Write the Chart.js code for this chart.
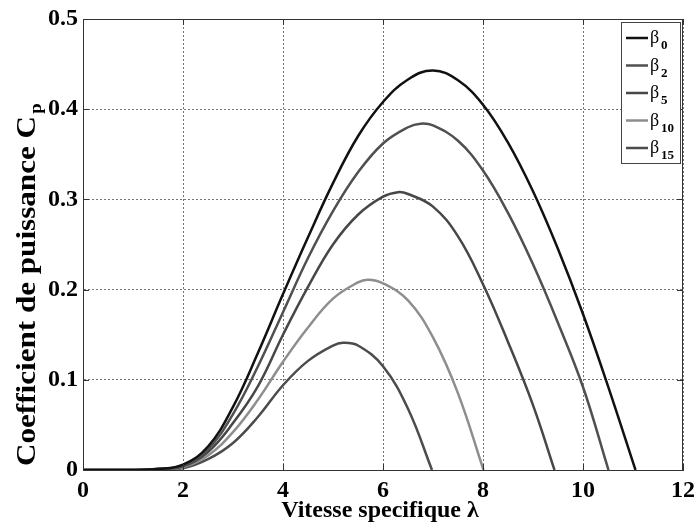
<!DOCTYPE html>
<html>
<head>
<meta charset="utf-8">
<script src="https://cdn.jsdelivr.net/npm/chart.js@4.4.1/dist/chart.umd.min.js"></script>
<style>
  body { margin: 0; background: #fff; }
</style>
</head>
<body>
<canvas id="chart" width="694" height="525"></canvas>
<script>
// valeurs (lambda -> Cp)
const lam0 = [0, 0.5, 1, 1.5, 2, 2.5, 3, 3.5, 4, 4.5, 5, 5.5, 6, 6.5, 7, 7.5, 8, 8.5, 9, 9.5, 10, 10.5, 11.05];
const cp0  = [0, 0, 0, 0.001, 0.006, 0.026, 0.07, 0.13, 0.195, 0.258, 0.318, 0.37, 0.408, 0.433, 0.443, 0.432, 0.405, 0.363, 0.309, 0.245, 0.173, 0.093, 0];

const lam2 = [0, 0.5, 1, 1.5, 2, 2.5, 3, 3.5, 4, 4.5, 5, 5.5, 6, 6.5, 6.75, 7, 7.5, 8, 8.5, 9, 9.5, 10, 10.51];
const cp2  = [0, 0, 0, 0.001, 0.005, 0.023, 0.062, 0.115, 0.175, 0.235, 0.287, 0.33, 0.362, 0.38, 0.384, 0.382, 0.365, 0.332, 0.285, 0.228, 0.163, 0.092, 0];

const lam5 = [0, 0.5, 1, 1.5, 2, 2.5, 3, 3.5, 4, 4.5, 5, 5.5, 6, 6.3, 6.5, 7, 7.5, 8, 8.5, 9, 9.43];
const cp5  = [0, 0, 0, 0.001, 0.004, 0.02, 0.052, 0.093, 0.15, 0.203, 0.25, 0.283, 0.303, 0.308, 0.306, 0.292, 0.259, 0.206, 0.142, 0.072, 0];

const lam10 = [0, 0.5, 1, 1.5, 2, 2.5, 3, 3.5, 4, 4.5, 5, 5.5, 5.7, 6, 6.5, 7, 7.5, 8.01];
const cp10  = [0, 0, 0, 0.001, 0.003, 0.016, 0.042, 0.078, 0.12, 0.158, 0.19, 0.208, 0.211, 0.207, 0.188, 0.147, 0.085, 0];

const lam15 = [0, 0.5, 1, 1.5, 2, 2.5, 3, 3.5, 4, 4.5, 5, 5.2, 5.5, 6, 6.5, 6.98];
const cp15  = [0, 0, 0, 0.001, 0.002, 0.012, 0.03, 0.059, 0.094, 0.121, 0.138, 0.141, 0.138, 0.115, 0.068, 0];

const seriesNames = ['0', '2', '5', '10', '15'];
const seriesColors = ['#111111', '#505050', '#474747', '#8e8e8e', '#4c4c4c'];
const xTicks = [0, 2, 4, 6, 8, 10, 12];
const yTickLabels = ['0', '0.1', '0.2', '0.3', '0.4', '0.5'];

const lams = [lam0, lam2, lam5, lam10, lam15];
const cps = [cp0, cp2, cp5, cp10, cp15];

function points(xs, ys) {
  return xs.map(function (x, i) { return { x: x, y: ys[i] }; });
}

const datasets = seriesNames.map(function (name, i) {
  return {
    label: 'β' + name,
    data: points(lams[i], cps[i]),
    borderColor: seriesColors[i],
    borderWidth: 2.5,
    pointRadius: 0,
    fill: false,
    tension: 0.4
  };
});

const serif = 'Liberation Serif, Times New Roman, serif';

// cadre, petites graduations, titres des axes et legende
const decor = {
  id: 'decor',
  afterDatasetsDraw(chart) {
    const ctx = chart.ctx;
    const a = chart.chartArea;
    const xs = chart.scales.x, ys = chart.scales.y;
    ctx.save();
    ctx.strokeStyle = '#333';
    ctx.lineWidth = 1;
    ctx.setLineDash([]);
    ctx.strokeRect(a.left + 0.5, a.top + 0.5, a.right - a.left - 1, a.bottom - a.top);
    ctx.beginPath();
    xTicks.forEach(function (v) {
      const px = Math.round(xs.getPixelForValue(v)) + 0.5;
      ctx.moveTo(px, a.bottom); ctx.lineTo(px, a.bottom - 6);
      ctx.moveTo(px, a.top); ctx.lineTo(px, a.top + 6);
    });
    yTickLabels.forEach(function (t) {
      const py = Math.round(ys.getPixelForValue(parseFloat(t))) + 0.5;
      ctx.moveTo(a.left, py); ctx.lineTo(a.left + 6, py);
      ctx.moveTo(a.right, py); ctx.lineTo(a.right - 6, py);
    });
    ctx.stroke();

    // titre x
    ctx.fillStyle = '#000';
    ctx.font = 'bold 24px ' + serif;
    ctx.textAlign = 'center';
    ctx.textBaseline = 'alphabetic';
    ctx.fillText('Vitesse specifique λ', 380, 517);

    // titre y avec indice p
    ctx.save();
    ctx.translate(35, 466);
    ctx.rotate(-Math.PI / 2);
    ctx.textAlign = 'left';
    ctx.font = 'bold 28px ' + serif;
    const main = 'Coefficient de puissance C';
    const w = ctx.measureText(main).width;
    ctx.scale(350 / w, 1);
    ctx.fillText(main, 0, 0);
    ctx.font = 'bold 17px ' + serif;
    ctx.fillText('p', w + 2, 6);
    ctx.restore();

    // legende
    const lx = 621, ly = 22, lw = 59, lh = 141;
    ctx.fillStyle = '#fff';
    ctx.fillRect(lx, ly, lw, lh);
    ctx.strokeStyle = '#444';
    ctx.lineWidth = 1;
    ctx.strokeRect(lx + 0.5, ly + 0.5, lw, lh);
    datasets.forEach(function (d, i) {
      const y = 38 + i * 27.5;
      ctx.strokeStyle = d.borderColor;
      ctx.lineWidth = 2.5;
      ctx.beginPath();
      ctx.moveTo(626, y); ctx.lineTo(648, y);
      ctx.stroke();
      ctx.fillStyle = '#000';
      ctx.textAlign = 'left';
      ctx.font = '18px ' + serif;
      ctx.fillText('β', 650, y + 5);
      ctx.font = 'bold 13px ' + serif;
      ctx.fillText(seriesNames[i], 661, y + 11);
    });
    ctx.restore();
  }
};

const chartCp = new Chart(document.getElementById('chart'), {
  type: 'line',
  data: { datasets: datasets },
  plugins: [decor],
  options: {
    responsive: false,
    animation: false,
    layout: { padding: { top: 19, right: 11, left: 0, bottom: 0 } },
    plugins: { legend: { display: false }, tooltip: { enabled: false } },
    scales: {
      x: {
        type: 'linear',
        min: 0,
        max: 12,
        afterFit: function (s) { s.height = 55; s.paddingLeft = 0; s.paddingRight = 0; },
        afterBuildTicks: function (s) { s.ticks = xTicks.map(function (v) { return { value: v }; }); },
        ticks: {
          padding: 6,
          color: '#000',
          font: { family: serif, size: 24, weight: 'bold' },
          maxRotation: 0
        },
        grid: { color: '#777', drawTicks: false },
        border: { display: true, color: '#333', dash: [2, 2] }
      },
      y: {
        min: 0,
        max: 0.5,
        afterFit: function (s) { s.width = 83; s.paddingTop = 0; s.paddingBottom = 0; },
        afterBuildTicks: function (s) { s.ticks = yTickLabels.map(function (t) { return { value: parseFloat(t) }; }); },
        ticks: {
          padding: 5,
          color: '#000',
          font: { family: serif, size: 24, weight: 'bold' },
          callback: function (v, i) { return yTickLabels[i]; }
        },
        grid: { color: '#777', drawTicks: false },
        border: { display: true, color: '#333', dash: [2, 2] }
      }
    }
  }
});
</script>
</body>
</html>
